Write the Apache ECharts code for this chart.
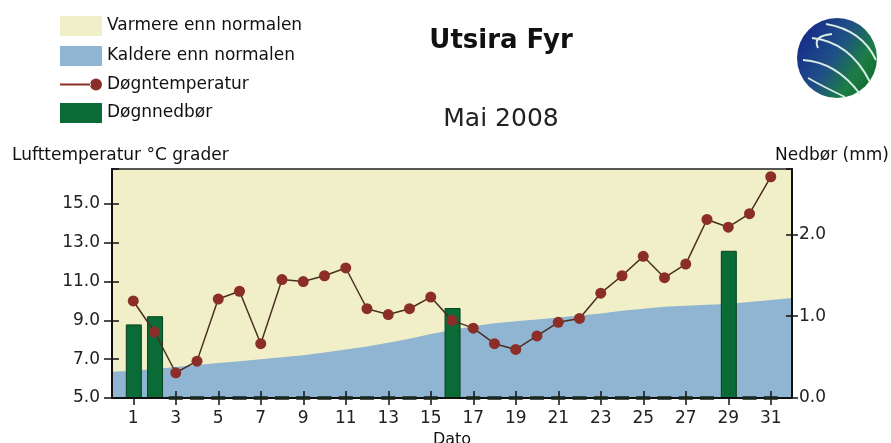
<!DOCTYPE html>
<html>
<head>
<meta charset="utf-8">
<title>Utsira Fyr - Mai 2008</title>
<script src="https://cdn.jsdelivr.net/npm/echarts/dist/echarts.min.js"></script>
<style>
html,body{margin:0;padding:0;background:#fff;}
#chart{width:891px;height:443px;}
</style>
</head>
<body>
<div id="chart"></div>
<script>
// x positions 0..32, only 1..31 are real days
var days = ['0','1','2','3','4','5','6','7','8','9','10','11','12','13','14','15','16',
  '17','18','19','20','21','22','23','24','25','26','27','28','29','30','31','32'];
// døgntemperatur (°C)
var temperatur = [null, 10.0, 8.4, 6.3, 6.9, 10.1, 10.5, 7.8, 11.1, 11.0, 11.3, 11.7, 9.6, 9.3, 9.6, 10.2,
  9.0, 8.6, 7.8, 7.5, 8.2, 8.9, 9.1, 10.4, 11.3, 12.3, 11.2, 11.9, 14.2, 13.8, 14.5, 16.4, null];
// normaltemperatur (grense mellom varmere / kaldere)
var normal = [6.35, 6.4, 6.5, 6.6, 6.7, 6.8, 6.9, 7.0, 7.1, 7.2, 7.35, 7.5, 7.65, 7.85, 8.05, 8.3,
  8.5, 8.7, 8.85, 8.95, 9.05, 9.15, 9.25, 9.35, 9.5, 9.6, 9.7, 9.75, 9.8, 9.85, 9.95, 10.05, 10.15];
// døgnnedbør (mm)
var nedbor = [null, 0.9, 1.0, 0, 0, 0, 0, 0, 0, 0, 0, 0, 0, 0, 0, 0,
  1.1, 0, 0, 0, 0, 0, 0, 0, 0, 0, 0, 0, 0, 1.8, 0, 0, null];
var tempTicks = [5, 16.8, 2];
var nedborTicks = [0, 2.8, 1];

var font = 'DejaVu Sans';
var gul = '#f1efc8', bla = '#90b5d2', gronn = '#0b6b37', rod = '#8b2e27';

var oddOnly = function (i, v) { return Number(v) % 2 === 1; };
var oneDec = function (v) { return v.toFixed(1); };

var myChart = echarts.init(document.getElementById('chart'));
myChart.setOption({
  animation: false,
  textStyle: {fontFamily: font},
  legend: {
    orient: 'vertical', left: 55, top: 11,
    itemWidth: 42, itemHeight: 20, itemGap: 10,
    selectedMode: false,
    textStyle: {fontSize: 17, color: '#111', fontFamily: font},
    data: [
      {name: 'Varmere enn normalen', icon: 'rect'},
      {name: 'Kaldere enn normalen', icon: 'rect'},
      {name: 'Døgntemperatur', icon: 'path://M0,9L31,9L31,11L0,11Z M30,10A6,6,0,1,0,42,10A6,6,0,1,0,30,10Z'},
      {name: 'Døgnnedbør', icon: 'rect', itemStyle: {borderWidth: 0}}
    ]
  },
  grid: {
    left: 112, right: 99, top: 169, bottom: 45,
    outerBoundsMode: 'none', containLabel: false,
    show: true, backgroundColor: gul, borderColor: '#222', borderWidth: 1.5
  },
  graphic: [
    {type: 'text', style: {text: 'Utsira Fyr', x: 501, y: 41, align: 'center', verticalAlign: 'middle', font: 'bold 26px ' + font, fill: '#111'}},
    {type: 'text', style: {text: 'Mai 2008', x: 501, y: 119, align: 'center', verticalAlign: 'middle', font: '25px ' + font, fill: '#222'}},
    {type: 'text', style: {text: 'Lufttemperatur °C grader', x: 12, y: 156, align: 'left', verticalAlign: 'middle', font: '17px ' + font, fill: '#111'}},
    {type: 'text', style: {text: 'Nedbør (mm)', x: 889, y: 156, align: 'right', verticalAlign: 'middle', font: '17px ' + font, fill: '#111'}},
    {
      type: 'group',
      children: [
        {type: 'circle', shape: {cx: 837, cy: 58, r: 40}, style: {
          fill: new echarts.graphic.LinearGradient(0, 0.2, 1, 0.8, [
            {offset: 0, color: '#16288a'}, {offset: 0.45, color: '#1f4f86'},
            {offset: 0.75, color: '#1c7d45'}, {offset: 1, color: '#0f6a2c'}])}},
        {type: 'bezierCurve', shape: {x1: 812, y1: 38, x2: 870, y2: 82, cpx1: 850, cpy1: 42}, style: {stroke: '#d8ece4', lineWidth: 2, fill: null}},
        {type: 'bezierCurve', shape: {x1: 803, y1: 60, x2: 860, y2: 94, cpx1: 836, cpy1: 62}, style: {stroke: '#d8ece4', lineWidth: 2, fill: null}},
        {type: 'bezierCurve', shape: {x1: 826, y1: 24, x2: 876, y2: 60, cpx1: 862, cpy1: 30}, style: {stroke: '#d8ece4', lineWidth: 2, fill: null}},
        {type: 'bezierCurve', shape: {x1: 808, y1: 78, x2: 845, y2: 97, cpx1: 822, cpy1: 86}, style: {stroke: '#d8ece4', lineWidth: 1.5, fill: null}},
        {type: 'bezierCurve', shape: {x1: 818, y1: 48, x2: 832, y2: 34, cpx1: 812, cpy1: 36}, style: {stroke: '#d8ece4', lineWidth: 2, fill: null}}
      ]
    }
  ],
  xAxis: [
    {
      type: 'category', data: days, boundaryGap: false, z: 5,
      name: 'Dato', nameLocation: 'middle', nameGap: 33,
      nameTextStyle: {fontSize: 16, color: '#111'},
      axisLine: {lineStyle: {color: '#111', width: 2}},
      axisTick: {interval: oddOnly, length: 7, lineStyle: {color: '#111', width: 1.5}},
      axisLabel: {interval: oddOnly, margin: 12, fontSize: 17, color: '#222'},
      splitLine: {show: false}
    },
    {
      type: 'category', data: days, boundaryGap: false, position: 'bottom', z: 1.5,
      axisLine: {show: false},
      axisTick: {inside: true, interval: oddOnly, length: 7, lineStyle: {color: '#111', width: 1.5}},
      axisLabel: {show: false},
      splitLine: {show: false}
    }
  ],
  yAxis: [
    {
      type: 'value', position: 'left', min: tempTicks[0], max: tempTicks[1], interval: tempTicks[2], z: 5,
      axisLine: {show: true, lineStyle: {color: '#111', width: 2}},
      axisTick: {show: true, length: 8, lineStyle: {color: '#111', width: 1.5}},
      axisLabel: {fontSize: 17, color: '#222', margin: 12, showMaxLabel: false, formatter: oneDec},
      splitLine: {show: false}
    },
    {
      type: 'value', position: 'right', min: nedborTicks[0], max: nedborTicks[1], interval: nedborTicks[2], z: 5,
      axisLine: {show: true, lineStyle: {color: '#111', width: 2}},
      axisTick: {show: true, length: 6, lineStyle: {color: '#111', width: 1.5}},
      axisLabel: {fontSize: 17, color: '#222', margin: 7, showMaxLabel: false, formatter: oneDec},
      splitLine: {show: false}
    },
    {
      type: 'value', position: 'left', offset: 0, min: tempTicks[0], max: tempTicks[1], interval: tempTicks[2], z: 1.5,
      axisLine: {show: false},
      axisTick: {show: true, inside: true, length: 7, lineStyle: {color: '#111', width: 1.5}},
      axisLabel: {show: false},
      splitLine: {show: false}
    },
    {
      type: 'value', position: 'right', offset: 0, min: nedborTicks[0], max: nedborTicks[1], interval: nedborTicks[2], z: 1.5,
      axisLine: {show: false},
      axisTick: {show: true, inside: true, length: 6, lineStyle: {color: '#111', width: 1.5}},
      axisLabel: {show: false},
      splitLine: {show: false}
    }
  ],
  series: [
    {
      name: 'Varmere enn normalen', type: 'bar', data: [],
      itemStyle: {color: gul}
    },
    {
      name: 'Kaldere enn normalen', type: 'line', data: normal,
      symbol: 'none', z: 1, silent: true,
      itemStyle: {color: bla},
      lineStyle: {width: 0, color: bla},
      areaStyle: {color: bla, opacity: 1, origin: 'start'}
    },
    {
      name: 'Døgnnedbør', type: 'bar', yAxisIndex: 1, data: nedbor,
      barWidth: 16, z: 2,
      itemStyle: {color: gronn, borderColor: '#08401f', borderWidth: 1}
    },
    {
      name: 'nullnedbør', type: 'scatter', yAxisIndex: 1, z: 7, clip: false, silent: true,
      data: nedbor.map(function (v) { return v === 0 ? 0 : null; }),
      symbol: 'rect', symbolSize: [14, 4],
      itemStyle: {color: '#1c2a20'}
    },
    {
      name: 'Døgntemperatur', type: 'line', yAxisIndex: 0, data: temperatur,
      z: 8, symbol: 'circle', symbolSize: 11,
      itemStyle: {color: rod},
      lineStyle: {color: '#4a2e22', width: 1.5}
    }
  ]
});
</script>
</body>
</html>
